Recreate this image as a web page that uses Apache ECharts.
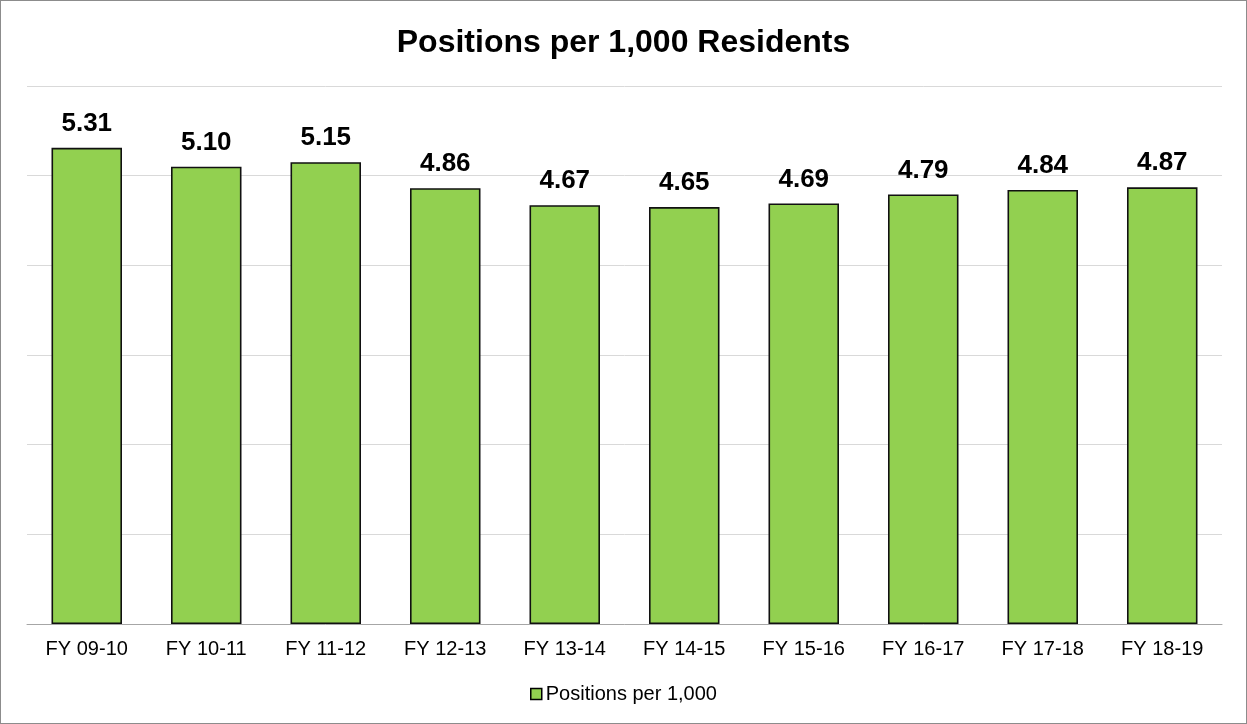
<!DOCTYPE html>
<html>
<head>
<meta charset="utf-8">
<script src="https://cdn.jsdelivr.net/npm/echarts@6/dist/echarts.min.js"></script>
<style>
  html, body { margin: 0; padding: 0; background: #fff; }
  #chart { width: 1245px; height: 722px; border: 1px solid #8c8c8c; }
</style>
</head>
<body>
<div id="chart"></div>
<script>
// data
var categories = ["FY 09-10", "FY 10-11", "FY 11-12", "FY 12-13", "FY 13-14",
                  "FY 14-15", "FY 15-16", "FY 16-17", "FY 17-18", "FY 18-19"];
var positionsPer1000 = [5.31, 5.10, 5.15, 4.86, 4.67, 4.65, 4.69, 4.79, 4.84, 4.87];
var seriesName = "Positions per 1,000";

var chart = echarts.init(document.getElementById("chart"));

chart.setOption({
  animation: false,
  textStyle: { fontFamily: "'Liberation Sans', Arial, sans-serif" },
  title: {
    text: "Positions per 1,000 Residents",
    left: "center",
    top: 21,
    textStyle: { fontSize: 32, fontWeight: "bold", color: "#000",
                 fontFamily: "'Liberation Sans', Arial, sans-serif" }
  },
  legend: {
    data: [seriesName],
    top: 678,
    left: "center",
    icon: "rect",
    itemWidth: 11,
    itemHeight: 11,
    itemGap: 4,
    itemStyle: { borderColor: "#000", borderWidth: 1.5 },
    textStyle: { fontSize: 20, color: "#000", padding: [0, 0, 0, -1],
                 fontFamily: "'Liberation Sans', Arial, sans-serif" }
  },
  grid: { left: 26, right: 24, top: 85, bottom: 99 },
  xAxis: {
    type: "category",
    data: categories,
    axisTick: { show: false },
    axisLine: { lineStyle: { color: "#a6a6a6", width: 1 } },
    axisLabel: { fontSize: 20, color: "#000", margin: 15,
                 fontFamily: "'Liberation Sans', Arial, sans-serif" }
  },
  yAxis: {
    type: "value",
    min: 0,
    max: 6,
    interval: 1,
    axisLabel: { show: false },
    axisLine: { show: false },
    axisTick: { show: false },
    splitLine: { lineStyle: { color: "#d9d9d9", width: 1 } }
  },
  series: [{
    name: seriesName,
    type: "bar",
    data: positionsPer1000,
    barWidth: "59%",
    itemStyle: { color: "#92d050", borderColor: "#111", borderWidth: 1.6 },
    label: {
      show: true,
      position: "top",
      distance: 11,
      fontSize: 26,
      fontWeight: "bold",
      color: "#000",
      fontFamily: "'Liberation Sans', Arial, sans-serif",
      formatter: function (p) { return p.value.toFixed(2); }
    }
  }]
});
</script>
</body>
</html>
